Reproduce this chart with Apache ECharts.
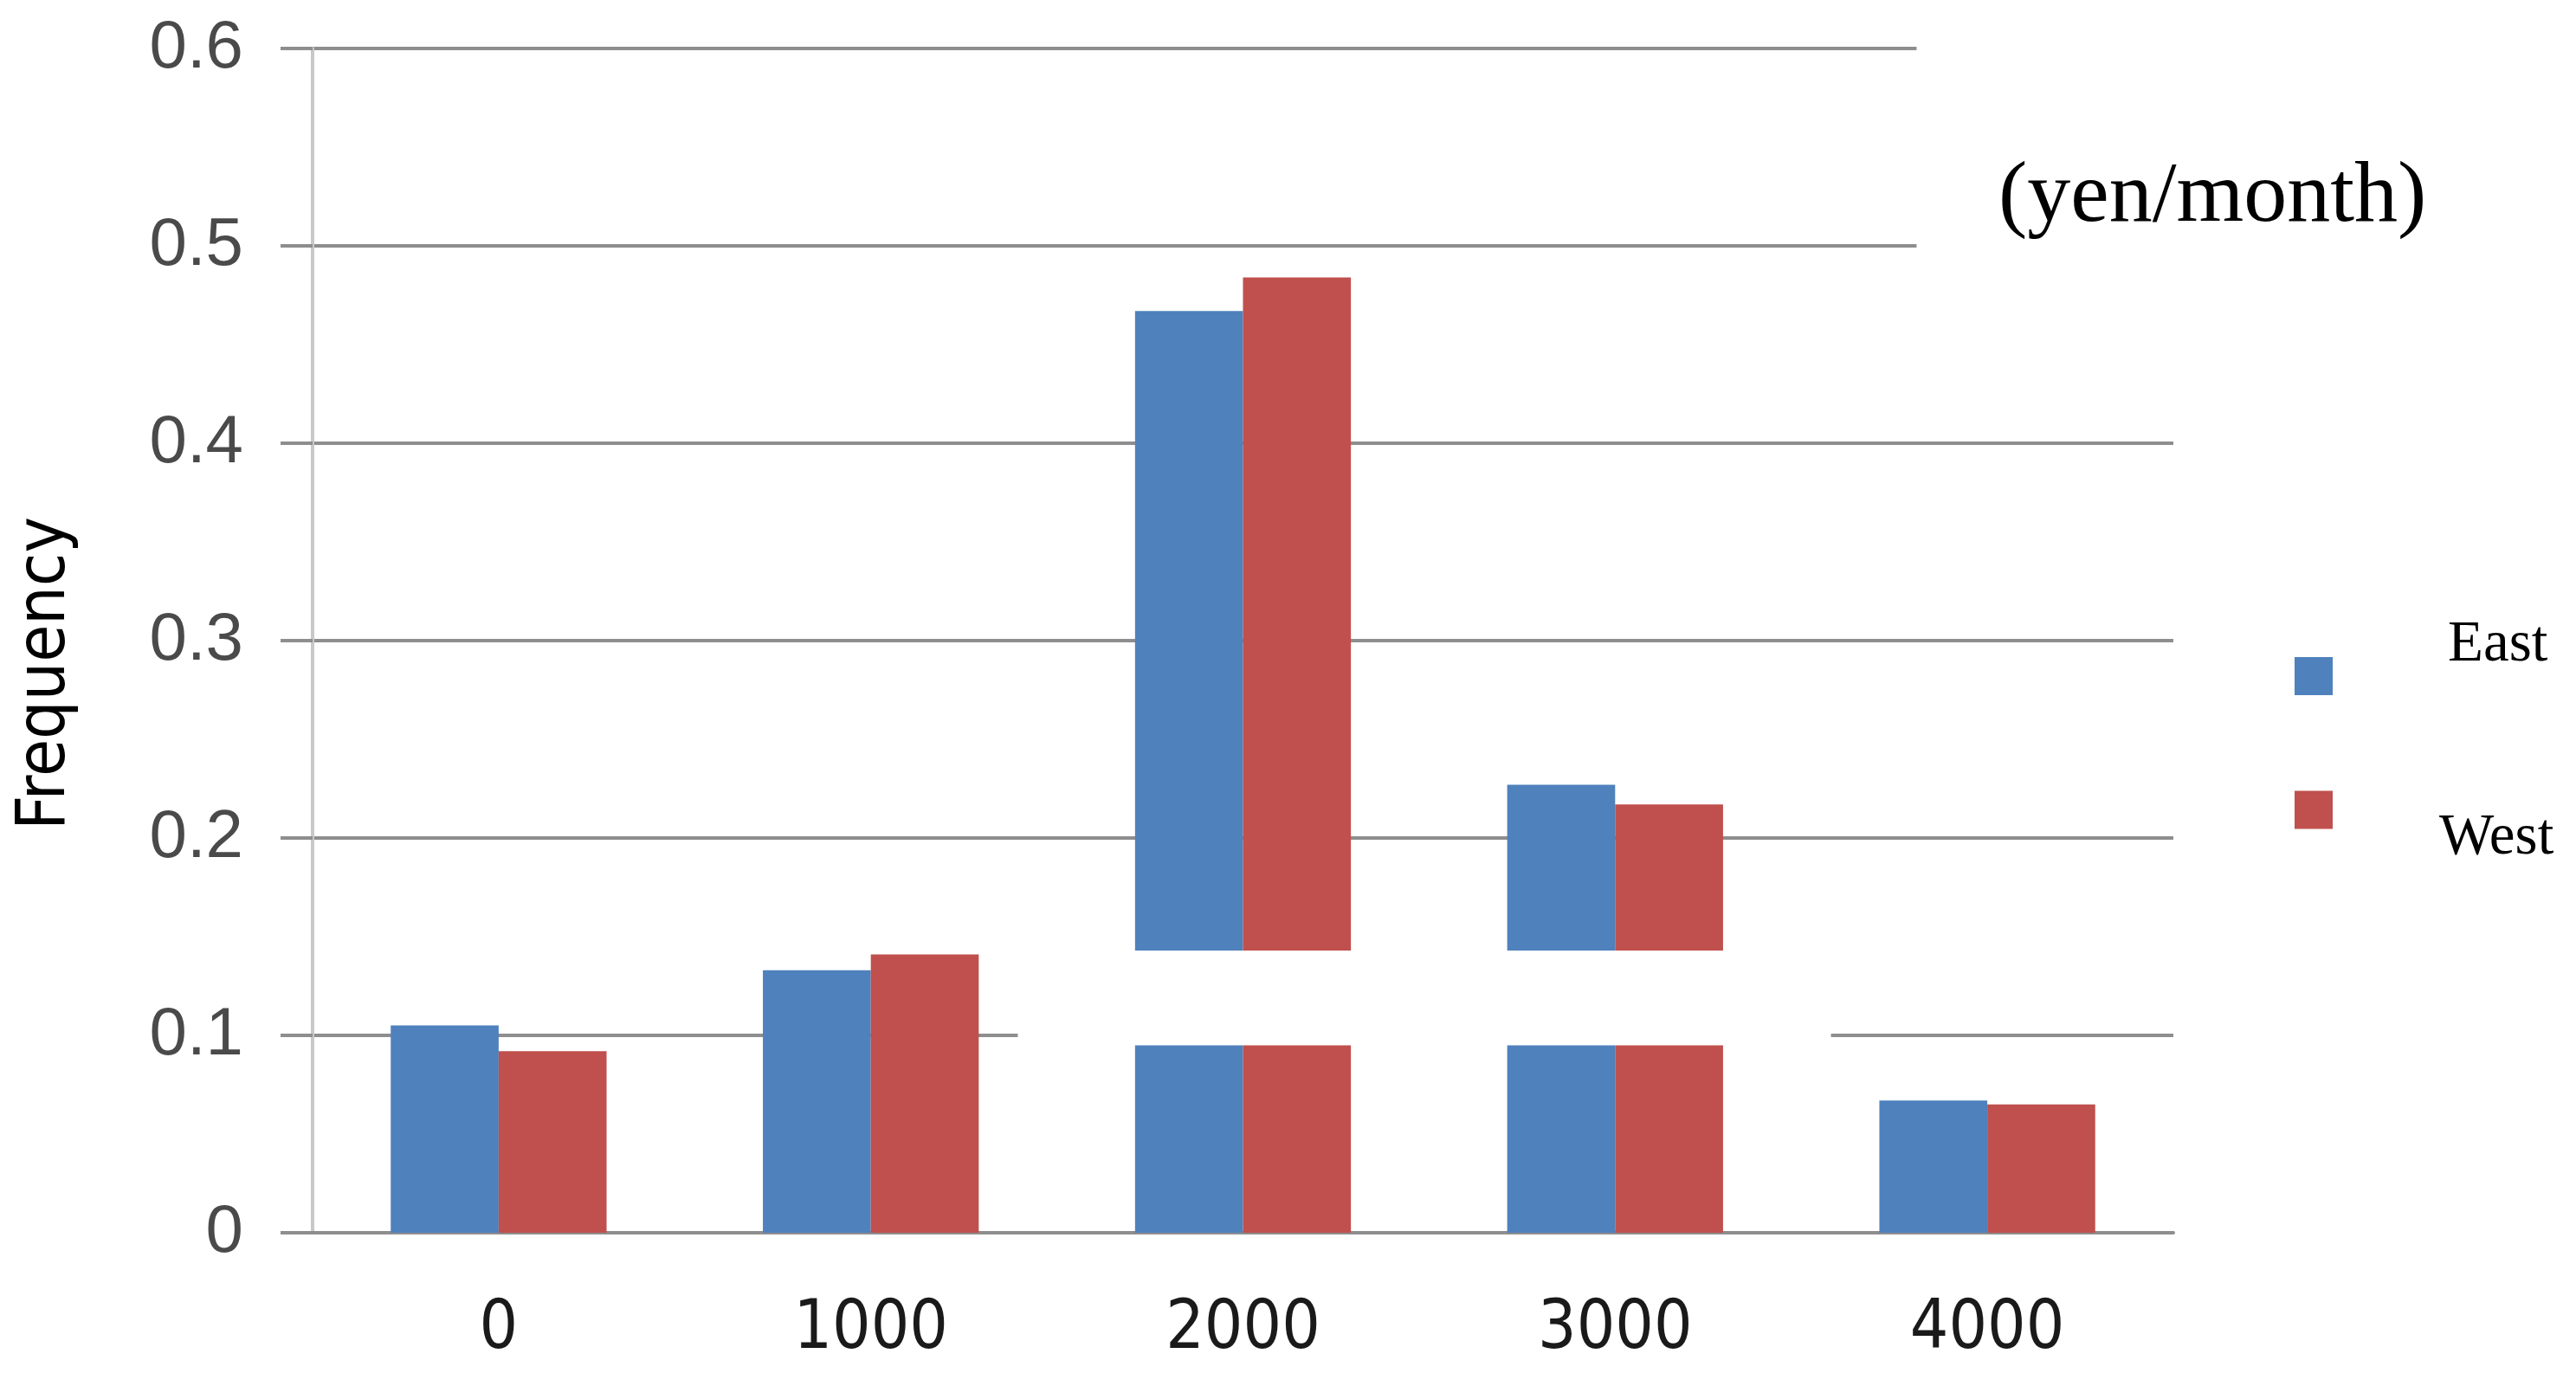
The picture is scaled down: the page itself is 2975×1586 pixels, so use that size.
<!DOCTYPE html>
<html lang="en">
<head>
    <meta charset="UTF-8">
    <title>Frequency by yen/month</title>
    <style>
        html, body { margin: 0; padding: 0; background: #fff; }
        #chart { width: 2975px; height: 1586px; }
    </style>
    <script src="https://cdn.jsdelivr.net/npm/echarts@6.0.0/dist/echarts.min.js"></script>
</head>
<body>
    <div id="chart"></div>

    <script type="text/javascript">
        // values
        var categories = ['0', '1000', '2000', '3000', '4000'];
        var eastValues = [0.105, 0.133, 0.467, 0.227, 0.067];
        var westValues = [0.092, 0.141, 0.484, 0.217, 0.065];
        // the picture has a blank band cut across the middle bars
        var cutRange = [0.095, 0.143];

        var narrow = "'Liberation Sans Narrow', 'DejaVu Sans Condensed', sans-serif";
        var serif = "'Liberation Serif', 'DejaVu Serif', serif";

        var myChart = echarts.init(document.getElementById('chart'));
        var option = {
            animation: false,
            title: {
                text: '(yen/month)',
                left: 2303,
                top: 174,
                z: 200,
                textStyle: { fontFamily: serif, fontWeight: 'normal', fontSize: 100, color: '#000' }
            },
            legend: [{
                data: ['East'],
                left: 2650, top: 709,
                padding: 0,
                icon: 'rect',
                itemWidth: 44, itemHeight: 44,
                selectedMode: false,
                // text sits above the marker in the picture
                formatter: function (name) { return name + '\n '; },
                textStyle: { fontFamily: serif, fontSize: 67, lineHeight: 72, color: '#000', padding: [0, 0, 0, 128] }
            }, {
                data: ['West'],
                left: 2650, top: 869,
                padding: 0,
                icon: 'rect',
                itemWidth: 44, itemHeight: 44,
                selectedMode: false,
                // and below it here
                formatter: function (name) { return ' \n' + name; },
                textStyle: { fontFamily: serif, fontSize: 67, lineHeight: 66, color: '#000', padding: [0, 0, 0, 118] }
            }],
            grid: { left: 361, right: 465, top: 56, bottom: 162 },
            xAxis: {
                type: 'category',
                data: categories,
                axisLine: { lineStyle: { color: '#8e8e8e', width: 4 } },
                axisTick: { length: 33, lineStyle: { color: '#c4c4c4', width: 3 } },
                axisLabel: { margin: 74, fontFamily: narrow, fontSize: 78, color: '#1a1a1a' }
            },
            yAxis: {
                type: 'value',
                min: 0,
                max: 0.6,
                interval: 0.1,
                name: 'Frequency',
                nameLocation: 'middle',
                nameRotate: 90,
                nameGap: 268,
                nameTextStyle: { fontFamily: narrow, fontSize: 78, color: '#000', padding: [0, 76, 0, 0] },
                axisLine: { show: true, lineStyle: { color: '#c8c8c8', width: 4 } },
                axisTick: { show: true, length: 37, lineStyle: { color: '#8e8e8e', width: 4 } },
                splitLine: { lineStyle: { color: '#8e8e8e', width: 4 } },
                axisLabel: { margin: 80, fontFamily: "'Liberation Sans', Arial, sans-serif", fontSize: 78, color: '#4a4a4a' }
            },
            series: [{
                name: 'East',
                type: 'bar',
                data: eastValues,
                barGap: '0%',
                barCategoryGap: '42%',
                itemStyle: { color: '#4f81bd' }
            }, {
                name: 'West',
                type: 'bar',
                data: westValues,
                itemStyle: { color: '#c0504d' }
            }]
        };
        myChart.setOption(option);

        // white patches that the picture shows over the plot
        var p0 = myChart.convertToPixel({ gridIndex: 0 }, [0, 0]);
        var p1 = myChart.convertToPixel({ gridIndex: 0 }, [1, 0]);
        var p4 = myChart.convertToPixel({ gridIndex: 0 }, [4, 0]);
        var band = p1[0] - p0[0];
        var cutTop = myChart.convertToPixel({ gridIndex: 0 }, [0, cutRange[1]])[1];
        var cutBottom = myChart.convertToPixel({ gridIndex: 0 }, [0, cutRange[0]])[1];
        var cornerBottom = myChart.convertToPixel({ gridIndex: 0 }, [0, 0.45])[1];
        var cutLeft = p1[0] + 0.395 * band;
        var cutRight = p4[0] - 0.42 * band;
        var cornerLeft = p4[0] - 0.19 * band;

        myChart.setOption({
            graphic: [{
                type: 'rect',
                z: 100,
                shape: { x: cutLeft, y: cutTop, width: cutRight - cutLeft, height: cutBottom - cutTop },
                style: { fill: '#fff' }
            }, {
                type: 'rect',
                z: 100,
                shape: { x: cornerLeft, y: 0, width: band, height: cornerBottom },
                style: { fill: '#fff' }
            }]
        });
    </script>
</body>
</html>
